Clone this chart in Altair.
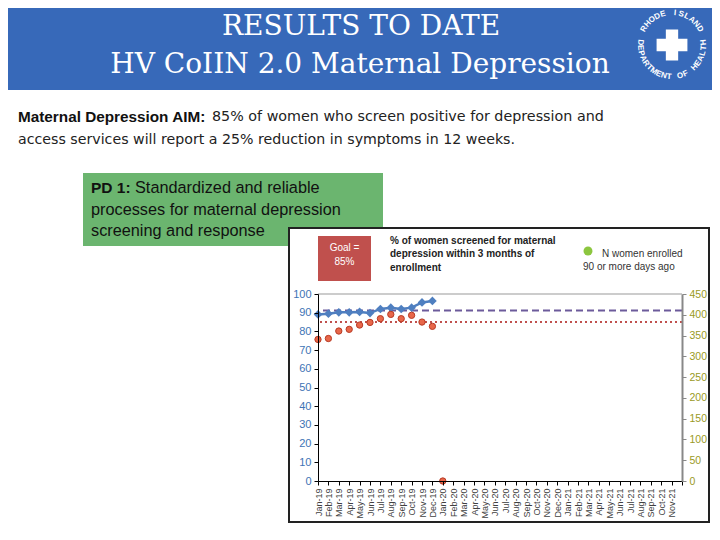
import math
import altair as alt
import pandas as pd

# ---------------- data ----------------
months = ["Jan-19", "Feb-19", "Mar-19", "Apr-19", "May-19", "Jun-19", "Jul-19", "Aug-19",
          "Sep-19", "Oct-19", "Nov-19", "Dec-19", "Jan-20", "Feb-20", "Mar-20", "Apr-20",
          "May-20", "Jun-20", "Jul-20", "Aug-20", "Sep-20", "Oct-20", "Nov-20", "Dec-20",
          "Jan-21", "Feb-21", "Mar-21", "Apr-21", "May-21", "Jun-21", "Jul-21", "Aug-21",
          "Sep-21", "Oct-21", "Nov-21", "Dec-21"]
screened_months = months[:12]
pct_screened = [89.1, 89.5, 90.2, 90.2, 90.4, 89.8, 92.0, 92.7, 92.0, 92.7, 95.5, 96.3]
dot_months = months[:13]
pct_dots = [75.7, 76.2, 80.2, 81.1, 83.4, 84.8, 86.8, 89.1, 86.8, 88.6, 85.0, 82.7, 0.0]
median_value = 91.2
goal_value = 85
left_ticks = list(range(0, 101, 10))
right_ticks = list(range(0, 451, 50))

# ---------------- geometry helpers (reference pixel -> plot pixel) ----------------
OX, OY = 318, 294
W, H = 364, 187


def X(v):
    return v - OX


def Y(v):
    return v - OY


one = pd.DataFrame({"d": [0]})


def rect(x0, y0, x1, y1, **kw):
    return alt.Chart(one).mark_rect(**kw).encode(
        x=alt.value(X(x0)), x2=alt.value(X(x1)), y=alt.value(Y(y0)), y2=alt.value(Y(y1)))


def txt(s, x, y, size, **kw):
    kw.setdefault("align", "left")
    kw.setdefault("baseline", "middle")
    kw.setdefault("font", "Liberation Sans")
    return alt.Chart(one).mark_text(text=s, fontSize=size, **kw).encode(
        x=alt.value(X(x)), y=alt.value(Y(y)))


# ---------------- slide decorations ----------------
header = rect(0, 0, 720, 90, color="#3769b9")
title1 = txt("RESULTS TO DATE", 361, 27, 28, align="center", color="white", font="DejaVu Serif")
title2 = txt("HV CoIIN 2.0 Maternal Depression", 360, 65, 28, align="center", color="white",
             font="DejaVu Serif")

# logo: ring of letters + cross
cx, cy, r = 672, 45, 32
rows = []
top = "RHODE ISLAND"
for i, ch in enumerate(top):
    th = -150 + 120 * i / (len(top) - 1)
    rows.append(dict(x=X(cx + r * math.cos(math.radians(th))), y=Y(cy + r * math.sin(math.radians(th))),
                     ch=ch, ang=(th + 90) % 360))
bot = "DEPARTMENT OF HEALTH"
for i, ch in enumerate(bot):
    th = 185 - 190 * i / (len(bot) - 1)
    rows.append(dict(x=X(cx + r * math.cos(math.radians(th))), y=Y(cy + r * math.sin(math.radians(th))),
                     ch=ch, ang=(th - 90) % 360))
logo_df = pd.DataFrame(rows)
logo_text = alt.Chart(logo_df).mark_text(fontSize=8, fontWeight="bold", color="white",
                                         font="Liberation Sans", baseline="middle").encode(
    x=alt.X("x:Q", scale=None), y=alt.Y("y:Q", scale=None), text="ch:N",
    angle=alt.Angle("ang:Q", scale=None))
logo_cross = alt.Chart(one).mark_point(shape="cross", filled=True, color="white", size=950,
                                       opacity=1).encode(x=alt.value(X(cx)), y=alt.value(Y(cy)))

aim_b = txt("Maternal Depression AIM:", 18, 117, 15.3, fontWeight="bold", color="#111")
aim_1 = txt("85% of women who screen positive for depression and", 212, 117, 14.3, color="#222",
            font="DejaVu Sans")
aim_2 = txt("access services will report a 25% reduction in symptoms in 12 weeks.", 18, 140, 14.2,
            color="#222", font="DejaVu Sans")

green_box = rect(83, 173, 383, 246, color="#6bb56f")
pd_b = txt("PD 1:", 91, 188, 15.5, fontWeight="bold", color="#111")
pd_1 = txt("Standardized and reliable", 135, 188, 16.3, color="#111")
pd_2 = txt("processes for maternal depression", 91, 210, 16.3, color="#111")
pd_3 = txt("screening and response", 91, 231, 16.3, color="#111")

frame = rect(289, 228, 709, 522, fill="white", stroke="#222", strokeWidth=2)

goal_box = rect(318, 236, 371, 281, color="#c0504d")
goal_1 = txt("Goal =", 344.5, 248, 10, align="center", color="white")
goal_2 = txt("85%", 344.5, 262, 10, align="center", color="white")

leg_1 = txt("% of women screened for maternal", 390, 241, 10, fontWeight="bold", color="#222")
leg_2 = txt("depression within 3 months of", 390, 254, 10, fontWeight="bold", color="#222")
leg_3 = txt("enrollment", 390, 268, 10, fontWeight="bold", color="#222")

leg_dot = alt.Chart(one).mark_circle(color="#8cc63f", size=80, opacity=1).encode(
    x=alt.value(X(588)), y=alt.value(Y(251)))
leg_n1 = txt("N women enrolled", 602, 254, 10, color="#333")
leg_n2 = txt("90 or more days ago", 583, 267, 10, color="#333")

top_border = alt.Chart(one).mark_rule(color="#999", strokeWidth=1).encode(
    x=alt.value(0), x2=alt.value(W), y=alt.value(0))

# ---------------- data layers ----------------
xscale = alt.Scale(type="point", domain=months, padding=0)
yscale = alt.Scale(domain=[0, 100], nice=False)

df_blue = pd.DataFrame({"month": screened_months, "pct": pct_screened})
df_red = pd.DataFrame({"month": dot_months, "pct": pct_dots})

xaxis = alt.Axis(labelAngle=-90, labelFontSize=9, labelColor="#404040", domainColor="#000",
                 tickColor="#000", tickSize=4, title=None, labelPadding=3, labelFont="Liberation Sans",
                 labelExpr="datum.value == 'Dec-21' ? '' : datum.value", zindex=1,
                 labelOverlap=False)
yaxis = alt.Axis(values=left_ticks, labelColor="#3e73b5", labelFontSize=11, domainColor="#000",
                 tickColor="#000", tickSize=4, grid=False, title=None, labelFont="Liberation Sans",
                 labelPadding=3, zindex=1, labelOverlap=False)

blue = alt.Chart(df_blue).mark_line(
    color="#4f7fc0", strokeWidth=2.5,
    point=alt.OverlayMarkDef(shape="diamond", size=75, filled=True, color="#4f7fc0")).encode(
    x=alt.X("month:O", scale=xscale, axis=xaxis, sort=months),
    y=alt.Y("pct:Q", scale=yscale, axis=yaxis))

red = alt.Chart(df_red).mark_circle(color="#e8674a", stroke="#b83a24", strokeWidth=1, size=40,
                                    opacity=1).encode(
    x=alt.X("month:O", scale=xscale, axis=xaxis, sort=months),
    y=alt.Y("pct:Q", scale=yscale, axis=yaxis))

median_rule = alt.Chart(one).mark_rule(color="#6c5b9b", strokeWidth=2, strokeDash=[7, 4]).encode(
    y=alt.datum(median_value, scale=yscale, axis=yaxis))
goal_rule = alt.Chart(one).mark_rule(color="#c0504d", strokeWidth=2, strokeDash=[2, 3]).encode(
    y=alt.datum(goal_value, scale=yscale, axis=yaxis))

left_layer = alt.layer(median_rule, goal_rule, blue, red)

right_layer = alt.Chart(one).mark_rule(opacity=0).encode(
    y=alt.datum(0, scale=alt.Scale(domain=[0, 450], nice=False),
                axis=alt.Axis(orient="right", values=right_ticks, labelColor="#9a9a1e",
                              labelFontSize=10.5, domainColor="#888", domainWidth=2,
                              tickColor="#888", tickSize=4, grid=False, title=None,
                              labelFont="Liberation Sans", labelPadding=3, zindex=1,
                              labelOverlap=False)))

chart = alt.layer(
    header, title1, title2, logo_cross, logo_text,
    aim_b, aim_1, aim_2,
    green_box, pd_b, pd_1, pd_2, pd_3,
    frame, goal_box, goal_1, goal_2, leg_1, leg_2, leg_3, leg_dot, leg_n1, leg_n2,
    top_border, left_layer, right_layer
).resolve_scale(x="independent", y="independent").properties(
    width=W, height=H,
    padding={"left": 310, "top": 286, "right": 30, "bottom": 51},
    autosize=alt.AutoSizeParams(type="none"),
    background="white"
).configure_view(stroke=None)

chart.save("out.html", embed_options={"renderer": "svg", "actions": False})
